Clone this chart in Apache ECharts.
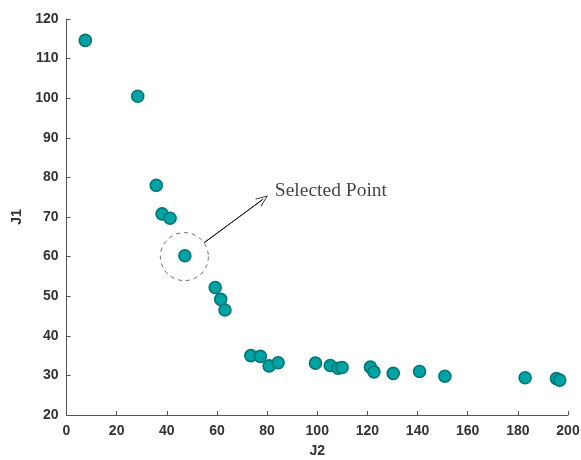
<!DOCTYPE html>
<html>
<head>
<meta charset="utf-8">
<script src="https://cdn.jsdelivr.net/npm/echarts@6/dist/echarts.min.js"></script>
<style>
html, body { margin: 0; padding: 0; background: #fff; }
#container { width: 581px; height: 460px; }
</style>
</head>
<body>
<div id="container"></div>
<script>
// pareto front points (J2, J1)
var j2 = [7.5, 28.4, 35.8, 38.1, 41.3, 47.2, 59.3, 61.5, 63.2, 73.5, 77.3, 80.8, 84.4,
	99.3, 105.2, 108.3, 109.9, 121.2, 122.6, 130.3, 140.8, 150.9, 182.9, 195.4, 196.7];
var j1 = [114.6, 100.5, 78.0, 70.8, 69.7, 60.2, 52.2, 49.2, 46.5, 35.0, 34.8, 32.4, 33.2,
	33.1, 32.5, 31.8, 32.0, 32.1, 30.9, 30.5, 31.0, 29.8, 29.4, 29.2, 28.8];
var selected = [47, 60];
var arrowFrom = [54.9, 63.5];
var arrowTo = [78.4, 74.5];
var noteAt = [83.1, 76.5];
var noteText = 'Selected Point';

var points = [];
for ( var i = 0; i < j2.length; i++ ) {
	points.push( [ j2[i], j1[i] ] );
}

var axisLabelStyle = {
	color: '#333',
	fontFamily: 'Liberation Sans',
	fontWeight: 'bold',
	fontSize: 14
};

var dom = document.getElementById( 'container' );
var myChart = echarts.init( dom );
var option = {
	animation: false,
	grid: {
		left: 66.5,
		right: 13,
		top: 19,
		bottom: 45,
		outerBoundsMode: 'none'
	},
	xAxis: {
		type: 'value',
		min: 0,
		max: 200,
		interval: 20,
		name: 'J2',
		nameLocation: 'middle',
		nameGap: 29,
		nameTextStyle: axisLabelStyle,
		axisLine: { lineStyle: { color: '#555', width: 1 } },
		axisTick: { inside: true, length: 4, lineStyle: { color: '#555' } },
		axisLabel: Object.assign( { margin: 9 }, axisLabelStyle ),
		splitLine: { show: false }
	},
	yAxis: {
		type: 'value',
		min: 20,
		max: 120,
		interval: 10,
		name: 'J1',
		nameLocation: 'middle',
		nameGap: 40,
		nameTextStyle: axisLabelStyle,
		axisLine: { show: true, lineStyle: { color: '#555', width: 1 } },
		axisTick: { show: true, inside: true, length: 4, lineStyle: { color: '#555' } },
		axisLabel: axisLabelStyle,
		splitLine: { show: false }
	},
	series: [
		{
			type: 'scatter',
			data: points,
			symbolSize: 12,
			itemStyle: {
				color: '#00a3a3',
				borderColor: '#007676',
				borderWidth: 1.6,
				opacity: 1
			},
			z: 3
		},
		{
			// dashed ring round the selected point
			type: 'scatter',
			data: [ selected ],
			symbolSize: 48,
			silent: true,
			itemStyle: {
				color: 'rgba(0,0,0,0)',
				borderColor: '#444',
				borderWidth: 1,
				borderType: [4, 4]
			},
			z: 2
		},
		{
			type: 'line',
			data: [ arrowFrom, arrowTo ],
			symbol: 'none',
			silent: true,
			lineStyle: { color: '#222', width: 1 },
			markLine: {
				silent: true,
				symbol: ['none', 'path://M5,0 L10,10 L9,10 L5,1.6 L1,10 L0,10 Z'],
				symbolSize: [10, 12],
				label: { show: false },
				lineStyle: { color: '#222', width: 1, type: 'solid' },
				data: [ [ { coord: arrowFrom }, { coord: arrowTo } ] ]
			}
		},
		{
			type: 'scatter',
			data: [ noteAt ],
			symbolSize: 0,
			silent: true,
			label: {
				show: true,
				position: 'right',
				distance: 0,
				formatter: noteText,
				color: '#111',
				fontFamily: 'Liberation Serif',
				fontSize: 19.5
			}
		}
	]
};

if ( option && typeof option === 'object' ) {
	myChart.setOption( option, true );
}
</script>
</body>
</html>
